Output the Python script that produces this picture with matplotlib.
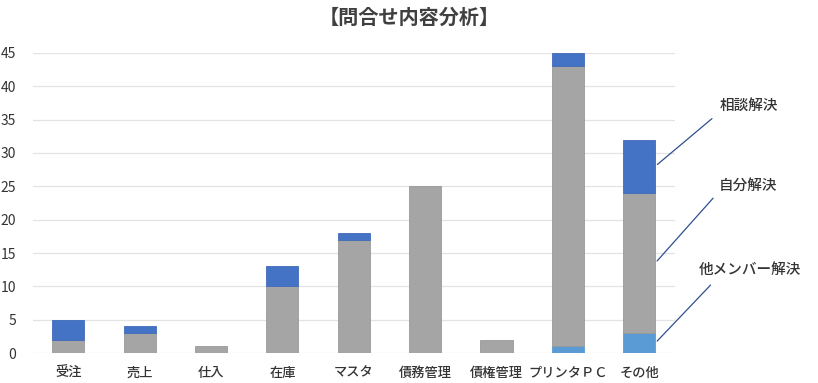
import matplotlib.pyplot as plt
import numpy as np

plt.rcParams['font.family'] = ['Noto Sans CJK JP', 'DejaVu Sans']

categories = ["受注", "売上", "仕入", "在庫", "マスタ", "債務管理", "債権管理", "プリンタＰＣ", "その他"]
other_member = [0, 0, 0, 0, 0, 0, 0, 1, 3]
self_solved = [2, 3, 1, 10, 17, 25, 2, 42, 21]
consulted = [3, 1, 0, 3, 1, 0, 0, 2, 8]
series_names = ["他メンバー解決", "自分解決", "相談解決"]
yticks = [0, 5, 10, 15, 20, 25, 30, 35, 40, 45]

fig = plt.figure(figsize=(8.18, 3.83), dpi=100)
ax = fig.add_axes([0.040, 0.078, 0.785, 0.784])

x = np.arange(len(categories))
w = 0.45
b1 = np.array(other_member)
b2 = b1 + np.array(self_solved)


def edge_widths(vals):
    # no outline on empty segments
    return [0.6 if v > 0 else 0 for v in vals]


ax.bar(x, other_member, w, color="#5B9BD5", edgecolor="#5B9BD5",
       linewidth=edge_widths(other_member), zorder=3)
ax.bar(x, self_solved, w, bottom=b1, color="#A5A5A5", edgecolor="#999999",
       linewidth=edge_widths(self_solved), zorder=3)
ax.bar(x, consulted, w, bottom=b2, color="#4472C4", edgecolor="#3F6AB8",
       linewidth=edge_widths(consulted), zorder=3)

ax.set_xlim(-0.5, len(categories) - 0.5)
ax.set_ylim(0, 45)
ax.set_yticks(yticks)
ax.set_xticks(x)
ax.set_xticklabels(categories, fontsize=9.5, color="#333333", fontweight='medium')
ax.tick_params(axis='y', labelsize=10, colors="#333333", length=0, pad=12)
ax.tick_params(axis='x', length=0, pad=9)
ax.grid(axis='y', color="#E3E3E3", linewidth=0.9, zorder=0)
for s in ax.spines.values():
    s.set_visible(False)

fig.text(0.5, 0.955, "【問合せ内容分析】", ha='center', va='center', fontsize=14.5,
         fontweight='bold', color="#404040")

# series labels with leader lines from the last bar
last = len(categories) - 1
mids = [other_member[last] / 2, b1[last] + self_solved[last] / 2, b2[last] + consulted[last] / 2]
label_pos = [(0.917, 0.295), (0.915, 0.515), (0.915, 0.725)]
line_start = [(0.871, 0.261), (0.874, 0.488), (0.873, 0.695)]
for name, m, lp, ls in zip(series_names, mids, label_pos, line_start):
    ax.annotate("", xy=(last + w / 2, m), xycoords='data',
                xytext=ls, textcoords='figure fraction',
                arrowprops=dict(arrowstyle='-', color="#2F4F8F", linewidth=0.9))
    fig.text(lp[0], lp[1], name, ha='center', va='center', fontsize=10.5,
             fontweight='medium', color="#333333")

fig.savefig("out.png", dpi=100)
